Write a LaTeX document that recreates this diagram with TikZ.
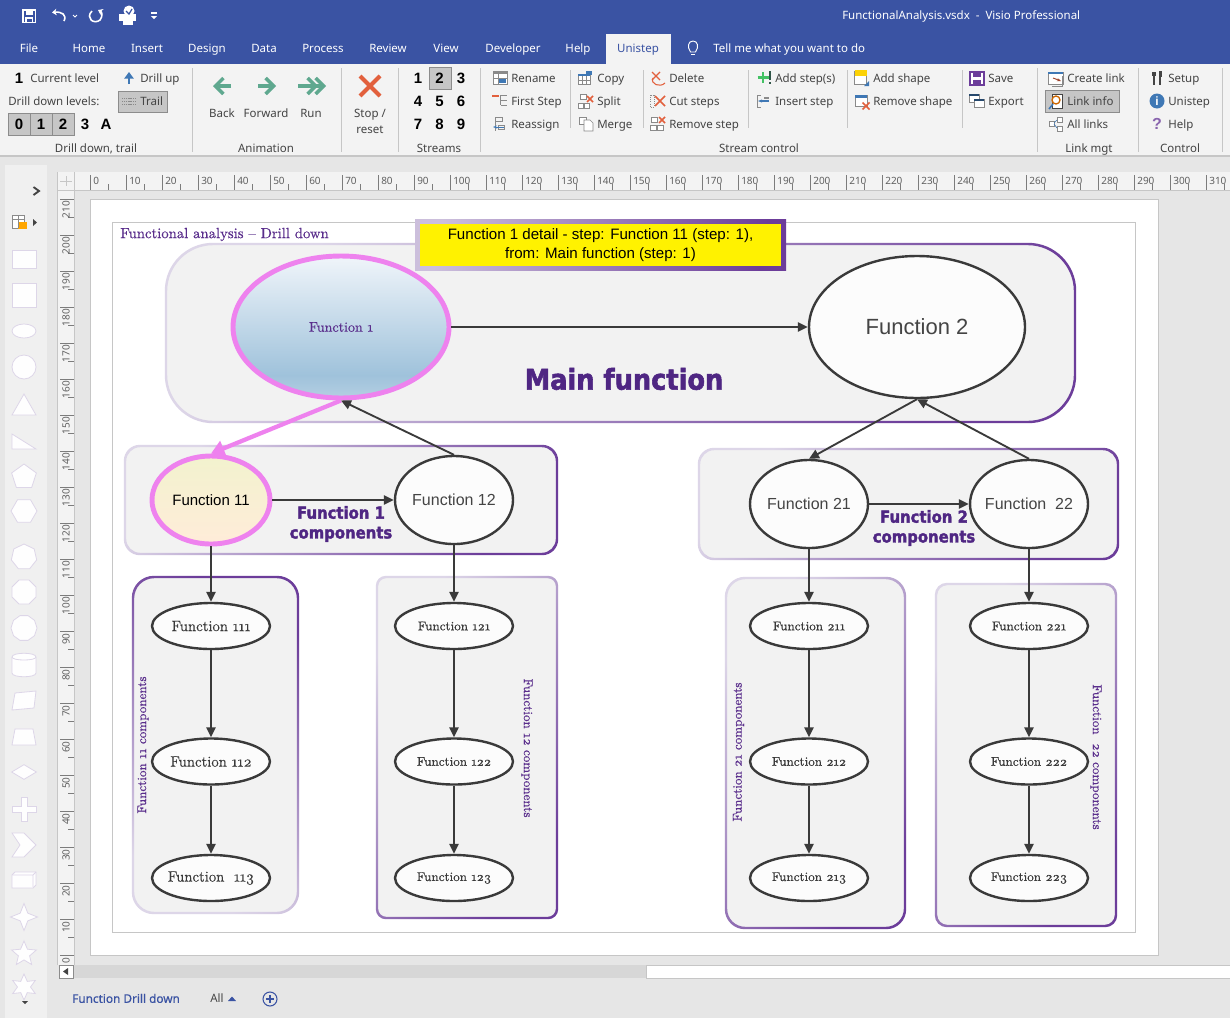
\documentclass[tikz,border=0pt]{standalone}
\usepackage{fontspec}
\usetikzlibrary{arrows.meta,shapes.geometric}
\setmainfont{Latin Modern Roman}[Numbers=OldStyle,FakeBold=0.35]
\newfontfamily\uifont{Noto Sans}
\newfontfamily\uibold{Noto Sans}[FakeBold=0.7]
\newfontfamily\arialfont{Liberation Sans}
\newfontfamily\heavyfont{DejaVu Sans}[FakeBold=2,FakeStretch=0.9]
\definecolor{bluebar}{HTML}{3A53A3}
\definecolor{ribbon}{HTML}{F3F3F3}
\definecolor{wk}{HTML}{E6E6E6}
\definecolor{btn}{HTML}{C6C6C6}
\definecolor{btnb}{HTML}{8C8C8C}
\definecolor{ink}{HTML}{444444}
\definecolor{grpf}{HTML}{F2F2F2}
\definecolor{lav}{HTML}{DDD6E8}
\definecolor{pur}{HTML}{6C3D9A}
\definecolor{headp}{HTML}{4F2683}
\definecolor{titlep}{HTML}{5A2E8C}
\definecolor{pinkn}{HTML}{EE82EE}
\definecolor{stroken}{HTML}{3A3A3A}
\definecolor{teal}{HTML}{5FA88F}
\definecolor{xred}{HTML}{E2603D}
\definecolor{iconb}{HTML}{3F78B5}
\definecolor{icong}{HTML}{8A8A8A}
\definecolor{fonetop}{HTML}{F0F5FA}
\definecolor{fonemid}{HTML}{9FC2DB}
\definecolor{fonelow}{HTML}{B5CFE2}
\pgfdeclareverticalshading{fonegrad}{100bp}{color(0bp)=(fonelow); color(25bp)=(fonelow); color(33bp)=(fonemid); color(75bp)=(fonetop); color(100bp)=(fonetop)}
\newcommand{\pxf}[1]{\fontsize{\dimexpr#1pt*3/4\relax}{\dimexpr#1pt*9/10\relax}\selectfont}
\newcommand{\grp}[7]{%
  \node[fill=grpf,rounded corners=#6*0.75pt,minimum width=(#4-#2)*0.75pt,minimum height=(#5-#3)*0.75pt,inner sep=0pt] (#1) at ({(#2+#4)/2},{(#3+#5)/2}) {};
  \shade[even odd rule,left color=lav,middle color=lav!70!pur,right color=pur,shading angle=#7,rounded corners=#6*0.75pt]
    (#2-1.2,#3-1.2) rectangle (#4+1.2,#5+1.2) [rounded corners=(#6-2)*0.75pt] (#2+1.2,#3+1.2) rectangle (#4-1.2,#5-1.2);}
\newcommand{\redx}[3]{\draw[xred,line width=1.1pt] (#1-#3,#2-#3) -- (#1+#3,#2+#3) (#1-#3,#2+#3) -- (#1+#3,#2-#3);}
\newcommand{\tinybox}[4]{\draw[icong,line width=0.5pt,fill=white] (#1,#2) rectangle (#1+#3,#2+#4);}
\tikzset{
  x=0.75pt,y=-0.75pt,
  ribl/.style={font=\uifont\pxf{11.5},text=ink,inner sep=0pt,anchor=west,text height=9pt,text depth=1.8pt},
  ribc/.style={ribl,anchor=center},
  numb/.style={font=\arialfont\bfseries\pxf{15},text=black,inner sep=0pt,anchor=center},
  tabl/.style={font=\uifont\pxf{11.5},text=white,inner sep=0pt,anchor=center,text height=9pt,text depth=1.8pt},
  btnbox/.style={fill=btn,draw=btnb,line width=0.75pt,inner sep=0pt},
  sepl/.style={draw=btn,line width=0.75pt},
  fbase/.style={ellipse,inner xsep=-8pt,inner ysep=-4pt,draw=stroken,line width=1.8pt,fill=white!99!black},
  bigf/.style={fbase,minimum width=216*0.75pt,minimum height=142*0.75pt},
  midf/.style={fbase,minimum width=118*0.75pt,minimum height=88*0.75pt},
  smf/.style={fbase,minimum width=118*0.75pt,minimum height=46*0.75pt},
  hilit/.style={draw=pinkn,line width=3.7pt},
  arr/.style={draw=stroken,line width=1.4pt,-{Triangle[length=7.5pt,width=7pt]}},
  pinkarr/.style={draw=pinkn,line width=3.2pt,-{Triangle[length=10pt,width=12pt]}},
  comp/.style={font=\heavyfont\bfseries\pxf{16.5},text=headp,inner sep=0pt,align=center},
  rotl/.style={font=\rmfamily\pxf{12.7},text=titlep,inner sep=0pt},
  stenc/.style={fill=white!97!lav,draw=lav,line width=0.6pt,inner sep=0pt},
  rultxt/.style={font=\uifont\pxf{10},text=ink!85!white,inner sep=0pt},
  rultick/.style={draw=ink!70!white,line width=0.4pt},
}
\begin{document}
\begin{tikzpicture}
\useasboundingbox (0,0) rectangle (1230,1018);
% window
\fill[wk] (0,0) rectangle (1230,1018);
\fill[wk!60!white] (5,165) rectangle (47,1018);
\fill[bluebar] (0,0) rectangle (1230,64);
\fill[ribbon] (0,64) rectangle (1230,155);
\draw[btn,line width=1pt] (0,156) -- (1230,156);
\fill[ribbon] (606,34) rectangle (671,64);
% quick access
\draw[white,line width=1.3pt] (23,10) rectangle (35.5,22.5);
\fill[white] (26,10) rectangle (32.5,15);
\draw[white,line width=1pt] (26,22.5) -- (26,18) -- (32.5,18) -- (32.5,22.5);
\draw[white,line width=1.2pt,-{Stealth[length=3.5pt,width=5pt]}] (64,21) .. controls (67,15) and (62,11.5) .. (52,12.5);
\draw[white,line width=0.7pt] (73,15) -- (75,17) -- (77,15);
\draw[white,line width=1.2pt,-{Stealth[length=3.5pt,width=5pt]}] (92,11) .. controls (85,18) and (94,25) .. (100,20) .. controls (103,16) and (102,12) .. (98,10);
\fill[white] (119,14) rectangle (136,21);
\fill[white] (123,21) rectangle (133,25);
\fill[white] (129,11) circle[radius=5.5*0.75pt];
\draw[bluebar,line width=0.9pt] (126,11) -- (129,14) -- (132,9);
\draw[white,line width=0.8pt] (151,13) -- (157,13);
\fill[white] (151,16) -- (157,16) -- (154,19) -- cycle;
\node[tabl,anchor=west] (ttl) at (842,15) {FunctionalAnalysis.vsdx\ \ -\ \ Visio Professional};
\foreach \n/\x/\t in {tb1/29/File,tb2/89/Home,tb3/147/Insert,tb4/207/Design,tb5/264/Data,tb6/323/Process,tb7/388/Review,tb8/446/View,tb9/513/Developer,tb10/578/Help}
  \node[tabl] (\n) at (\x,48) {\t};
\node[tabl,text=bluebar] (tbu) at (638,48) {Unistep};
\draw[white,line width=0.7pt] (690.5,52) .. controls (687,47) and (688,41) .. (693,41) .. controls (698,41) and (699,47) .. (695.5,52) -- cycle;
\draw[white,line width=0.7pt] (691,54.5) -- (695,54.5);
\node[tabl,anchor=west] (tell) at (713,48) {Tell me what you want to do};
% separators
\foreach \x in {192,341,398,480,1037,1138,1222} \draw[sepl] (\x,68) -- (\x,152);
\foreach \x in {570,643,748,847,962} \draw[sepl] (\x,70) -- (\x,128);
% drill down group
\node[numb] (cur) at (19,78) {1};
\node[ribl] (curl) at (30,78) {Current level};
\draw[iconb,line width=1.6pt,-{Triangle[length=5pt,width=7pt]}] (129,84) -- (129,72);
\node[ribl] (dup) at (140,78) {Drill up};
\node[ribl] (ddl) at (8,101) {Drill down levels:};
\node[btnbox,minimum width=49*0.75pt,minimum height=21*0.75pt] (trailb) at (142.5,101.5) {};
\foreach \yy in {98,101,104} \draw[icong,dash pattern=on 0.8pt off 0.6pt,line width=0.5pt] (122,\yy) -- (136,\yy);
\node[ribl] (trail) at (140,101) {Trail};
\foreach \n/\x/\t in {a/19/0,b/41/1,c/63/2}{
  \node[btnbox,minimum width=22*0.75pt,minimum height=22*0.75pt] (lv\n) at (\x,124.5) {};
  \node[numb] (lt\n) at (\x,124) {\t};
}
\node[numb] (lt3) at (85,124) {3};
\node[numb] (lta) at (106,124) {A};
\node[ribc] (g1) at (96,148) {Drill down, trail};
% animation
\draw[teal,line width=2.6pt,-{Straight Barb[length=6pt,width=12pt]}] (231,86) -- (213,86);
\draw[teal,line width=2.6pt,-{Straight Barb[length=6pt,width=12pt]}] (258,86) -- (276,86);
\draw[teal,line width=2.6pt,-{Straight Barb[length=6pt,width=12pt]}] (298,86) -- (318,86);
\draw[teal,line width=2.6pt,{Straight Barb[length=6pt,width=12pt]}-] (326,86) -- (316,86);
\node[ribc] (bk) at (222,113) {Back};
\node[ribc] (fw) at (266,113) {Forward};
\node[ribc] (rn) at (311,113) {Run};
\node[ribc] (g2) at (266,148) {Animation};
\draw[xred,line width=3pt] (360,76) -- (380,96) (360,96) -- (380,76);
\node[ribc] (st1) at (370,113) {Stop /};
\node[ribc] (st2) at (370,129) {reset};
% streams
\node[btnbox,minimum width=22*0.75pt,minimum height=22*0.75pt] (sb) at (440,78) {};
\foreach \n/\x/\y in {1/418/78,2/439.5/78,3/461/78,4/418/101,5/439.5/101,6/461/101,7/418/124,8/439.5/124,9/461/124}
  \node[numb] (sn\n) at (\x,\y) {\n};
\node[ribc] (g3) at (439,148) {Streams};
% stream control etc.
\node[btnbox,minimum width=74*0.75pt,minimum height=22*0.75pt] (linkb) at (1082,101.5) {};
\foreach \n/\x/\y/\t in {r1/511/78/Rename,r2/511/101/First Step,r3/511/124/Reassign,r4/597/78/Copy,r5/597/101/Split,r6/597/124/Merge,r7/669/78/Delete,r8/669/101/Cut steps,r9/669/124/Remove step,r10/775/78/Add step(s),r11/775/101/Insert step,r12/873/78/Add shape,r13/873/101/Remove shape,r14/988/78/Save,r15/988/101/Export,r16/1067/78/Create link,r17/1067/101/Link info,r18/1067/124/All links,r19/1168/78/Setup,r20/1168/101/Unistep,r21/1168/124/Help}
  \node[ribl] (\n) at (\x,\y) {\t};
\node[ribc] (g4) at (759,148) {Stream control};
\node[ribc] (g5) at (1089,148) {Link mgt};
\node[ribc] (g6) at (1180,148) {Control};
% small icons
\tinybox{493}{71}{14}{13}\fill[icong] (493,71) rectangle (507,74);\draw[icong,line width=0.4pt] (498,74) -- (498,84) (493,78) -- (507,78);\fill[iconb] (499,79) rectangle (506,83);
\fill[xred] (492,95) rectangle (499,97);\draw[icong,line width=0.7pt] (501,95) -- (507,95) (501,100) -- (507,100) (501,105) -- (507,105) (500,95) -- (500,105);
\draw[icong,line width=0.6pt] (495,117) rectangle (502,121) (495,121) -- (495,131) (498,125) rectangle (504,129);\draw[iconb,line width=0.7pt,-{Stealth[length=3pt]}] (504,127) -- (493,127);
\tinybox{578}{74}{12}{10}\fill[iconb] (578,74) rectangle (590,76);\draw[icong,line width=0.4pt] (582,76) -- (582,84) (586,76) -- (586,84) (578,80) -- (590,80);\fill[iconb] (586,71) rectangle (592,75);
\tinybox{580}{94}{6}{5}\tinybox{578}{103}{5}{5}\tinybox{584}{103}{5}{5}\redx{590}{99}{3}
\tinybox{579}{117}{7}{7}\draw[icong,line width=0.5pt,fill=white] (584,120) -- (590,120) -- (593,123) -- (593,131) -- (584,131) -- cycle;
\draw[xred,line width=0.9pt] (652,72) -- (660,80);\draw[xred,line width=0.9pt] (652,80) -- (660,72);\draw[xred,line width=0.8pt] (653,78) .. controls (650,84) and (660,88) .. (665,83);
\draw[icong,line width=0.6pt,densely dotted] (650,95) rectangle (654,107);\redx{660}{101}{5}
\tinybox{651}{117}{6}{5}\tinybox{650}{125}{6}{5}\tinybox{657}{125}{6}{5}\redx{662}{120}{3}
\draw[teal!70!green,line width=2pt] (763,72) -- (763,83) (757.5,77.5) -- (768.5,77.5);\draw[teal!50!black,line width=1.5pt] (770,71) -- (770,80) (770,82) -- (770,84);
\draw[icong,line width=0.7pt] (761,95) -- (757,95) -- (757,107) -- (761,107);\draw[iconb,line width=0.9pt,-{Stealth[length=3pt]}] (769,101) -- (758,101);\draw[icong,line width=0.8pt] (764,98) -- (769,98);
\tinybox{854}{71}{12}{13}\fill[yellow!70!orange] (855,70) rectangle (867,76);\fill[iconb] (869,81) -- (864,86) -- (869,86) -- cycle;
\tinybox{855}{95}{12}{11}\fill[iconb] (855,95) rectangle (867,98);\redx{866}{106}{3.5}
\draw[pur,line width=1.3pt,fill=white] (970,72) rectangle (984,85);\fill[pur] (973,72) rectangle (981,77);\fill[pur] (973,80) rectangle (981,85);
\tinybox{969}{94}{10}{8}\fill[iconb!60!black] (969,94) rectangle (979,96);\tinybox{974}{99}{10}{8}\fill[iconb!60!black] (974,99) rectangle (984,101);
\tinybox{1048}{72}{15}{12}\fill[iconb] (1048,72) rectangle (1063,74);\draw[xred!70!black,line width=0.7pt,-{Stealth[length=3pt]}] (1053,78) -- (1061,81);\draw[icong,line width=0.6pt] (1062,76) -- (1062,86) -- (1052,86);
\draw[ink,line width=0.6pt,fill=white] (1052,94) rectangle (1062,108);\draw[orange!80!black,line width=1pt] (1056,100) circle[radius=3pt];\draw[iconb,line width=1.2pt] (1053,104) -- (1049,109);
\tinybox{1049}{121}{5}{5}\tinybox{1057}{117}{5}{5}\tinybox{1057}{126}{5}{5}\draw[iconb,line width=0.5pt] (1054,123) -- (1057,120) (1054,124) -- (1057,128);
\draw[ink,line width=1.8pt] (1154,72) -- (1154,85);\draw[ink,line width=1.8pt] (1160,72) -- (1160,85);\fill[ink] (1152,72) rectangle (1156,76);\fill[ink] (1158.5,71) rectangle (1161.5,77);
\node[circle,fill=iconb,minimum size=15*0.75pt,inner sep=0pt,font=\arialfont\bfseries\pxf{12},text=white] (infoi) at (1157,101) {i};
\node[inner sep=0pt,font=\arialfont\bfseries\pxf{16},text=pur!80!white] (helpi) at (1157,124) {?};
% rulers
\fill[ribbon] (57,172) rectangle (1230,190);
\fill[ribbon] (57,190) rectangle (74,965);
\draw[btn,line width=0.6pt] (57,190) -- (1230,190) (74,172) -- (74,965) (57,172) -- (57,965);
\draw[btn,line width=0.5pt] (66,176) -- (66,186) (60,181) -- (72,181);
\foreach \i [evaluate=\i as \v using int(\i*10),evaluate=\i as \xx using 90+36*\i] in {0,...,31}{
  \draw[rultick] (\xx,175) -- (\xx,190) (\xx+18,184) -- (\xx+18,190);
  \node[rultxt,anchor=west] (rt\i) at (\xx+3,181) {\v};
}
\foreach \i [evaluate=\i as \v using int(\i*10),evaluate=\i as \yy using 955-36*\i] in {0,...,21}{
  \draw[rultick] (60,\yy) -- (74,\yy);
  \ifnum\i>0 \draw[rultick] (68,\yy+18) -- (74,\yy+18);\fi
  \node[rultxt,anchor=east,rotate=90] (rv\i) at (66,\yy+2) {\v};
}
% scrollbar
\fill[btn!70!white] (74,965) rectangle (646,978);
\draw[btn,fill=white,line width=0.5pt] (646,965) rectangle (1230,978);
\draw[btnb,fill=white,line width=0.5pt] (59,965) rectangle (73,978);
\fill[ink] (68,968) -- (68,975) -- (63,971.5) -- cycle;
% stencil
\draw[ink,line width=1.4pt] (33.5,187) -- (39,191) -- (33.5,195);
\tinybox{12}{215}{12}{13}\fill[orange!70!yellow] (18,222) rectangle (27,229);\draw[icong,line width=0.6pt] (12,219) -- (24,219) (18,215) -- (18,228);
\fill[ink] (33,219) -- (37,222.5) -- (33,226) -- cycle;
\draw[stenc] (12,250) rectangle (36,268);
\draw[stenc] (12,283) rectangle (36,307);
\node[stenc,ellipse,minimum width=24*0.75pt,minimum height=14*0.75pt] (s3) at (24,331) {};
\node[stenc,circle,minimum size=24*0.75pt] (s4) at (24,367) {};
\draw[stenc] (12,415) -- (24,394) -- (36,415) -- cycle;
\draw[stenc] (12,434) -- (36,449) -- (12,449) -- cycle;
\node[stenc,regular polygon,regular polygon sides=5,minimum size=26*0.75pt] (s7) at (24,477) {};
\node[stenc,regular polygon,regular polygon sides=6,minimum size=26*0.75pt] (s8) at (24,511) {};
\node[stenc,regular polygon,regular polygon sides=7,minimum size=26*0.75pt] (s9) at (24,557) {};
\node[stenc,regular polygon,regular polygon sides=8,minimum size=26*0.75pt] (s10) at (24,592) {};
\node[stenc,regular polygon,regular polygon sides=10,minimum size=26*0.75pt] (s11) at (24,628) {};
\draw[stenc] (12,657) .. controls (12,652) and (36,652) .. (36,657) -- (36,673) .. controls (36,678) and (12,678) .. (12,673) -- cycle;
\draw[stenc] (12,657) .. controls (12,661) and (36,661) .. (36,657);
\draw[stenc] (12,710) -- (15,693) -- (36,691) -- (34,708) -- cycle;
\draw[stenc] (12,745) -- (15,729) -- (33,729) -- (36,745) -- cycle;
\node[stenc,diamond,minimum width=25*0.75pt,minimum height=15*0.75pt] (s15) at (24,772) {};
\draw[stenc] (21,797) -- (27,797) -- (27,806) -- (36,806) -- (36,812) -- (27,812) -- (27,821) -- (21,821) -- (21,812) -- (12,812) -- (12,806) -- (21,806) -- cycle;
\draw[stenc] (12,833) -- (24,833) -- (36,845) -- (24,857) -- (12,857) -- (20,845) -- cycle;
\draw[stenc] (12,875) -- (15,872) -- (36,872) -- (36,885) -- (33,888) -- (12,888) -- cycle;
\draw[stenc] (12,875) -- (33,875) -- (33,888) (33,875) -- (36,872);
\node[stenc,star,star points=4,star point ratio=2.5,minimum size=27*0.75pt] (s19) at (24,917) {};
\node[stenc,star,star points=5,star point ratio=2.2,minimum size=26*0.75pt] (s20) at (24,954) {};
\node[stenc,star,star points=6,star point ratio=2.0,minimum size=26*0.75pt] (s21) at (24,987) {};
\fill[ink] (22,1001) -- (28,1001) -- (25,1004) -- cycle;
% tabs
\node[inner sep=0pt,anchor=west,font=\uibold\pxf{11.8},text=bluebar,text height=9pt,text depth=1.8pt] (fdd) at (72,998) {Function Drill down};
\node[ribl] (all) at (210,998) {All};
\fill[bluebar] (228,1001) -- (236,1001) -- (232,996.5) -- cycle;
\node[circle,draw=bluebar,line width=0.8pt,minimum size=14*0.75pt,inner sep=0pt] (addp) at (270,999) {};
\draw[bluebar,line width=1pt] (266,999) -- (274,999) (270,995) -- (270,1003);
% page
\draw[btn,fill=white,line width=0.6pt] (90,199) rectangle (1158,955);
\draw[btn,line width=0.8pt] (112.5,222.5) rectangle (1135.5,932.5);
\node[inner sep=0pt,anchor=west,font=\rmfamily\pxf{14.7},text=titlep] (ttlp) at (120,234.5) {Functional analysis -- Drill down};
% groups
\grp{gmain}{166}{244}{1075}{422}{48}{50}
\grp{g11c}{125}{446}{557}{554}{16}{50}
\grp{g21c}{699}{449}{1118}{559}{16}{50}
\grp{g111}{133}{577}{298}{913}{22}{150}
\grp{g121}{377}{577}{557}{918}{10}{50}
\grp{g211}{726}{578}{905}{928}{20}{50}
\grp{g221}{936}{584}{1116}{926}{12}{50}
% function nodes
\node[bigf,hilit,shading=fonegrad] (f1) at (341,327) {};
\node[font=\rmfamily\pxf{14},text=titlep,inner sep=0pt] (f1t) at (341,327) {Function 1};
\node[bigf,font=\arialfont\pxf{22},text=ink] (f2) at (917,327) {Function 2};
\node[midf,hilit,top color=yellow!15!white!95!black,bottom color=orange!15!white,font=\arialfont\pxf{15},text=black] (f11) at (211,500) {Function 11};
\node[midf,font=\arialfont\pxf{16},text=ink] (f12) at (454,500) {Function 12};
\node[midf,font=\arialfont\pxf{16},text=ink] (f21) at (809,504) {Function 21};
\node[midf,font=\arialfont\pxf{16},text=ink] (f22) at (1029,504) {Function\ \ 22};
\foreach \n/\x/\y/\t in {f111/211/626/Function 111,f112/211/761.5/Function 112,f113/211/878/Function\ \ 113}
  \node[smf,font=\rmfamily\pxf{15},text=stroken] (\n) at (\x,\y) {\t};
\foreach \n/\x/\y/\t in {f121/454/626/Function 121,f122/454/761.5/Function 122,f123/454/878/Function 123,f211/809/626/Function 211,f212/809/761.5/Function 212,f213/809/878/Function 213,f221/1029/626/Function 221,f222/1029/761.5/Function 222,f223/1029/878/Function 223}
  \node[smf,font=\rmfamily\pxf{12.7},text=stroken] (\n) at (\x,\y) {\t};
% connectors
\draw[arr] (f1) -- (f2);
\draw[arr] (f11) -- (f12);
\draw[arr] (f21) -- (f22);
\draw[pinkarr] (f1.south) -- (f11.north);
\draw[arr] (f12.north) -- (f1.south);
\draw[arr] (f2.south) -- (f21.north);
\draw[arr] (f22.north) -- (f2.south);
\foreach \a/\b in {f11/f111,f111/f112,f112/f113,f12/f121,f121/f122,f122/f123,f21/f211,f211/f212,f212/f213,f22/f221,f221/f222,f222/f223}
  \draw[arr] (\a) -- (\b);
% callout
\node[left color=lav!85!pur,middle color=lav!70!pur,right color=pur,shading angle=80,minimum width=371*0.75pt,minimum height=51*0.75pt,inner sep=0pt] (callb) at (600.5,244.5) {};
\node[fill=yellow,minimum width=361*0.75pt,minimum height=42*0.75pt,inner sep=0pt,align=center,font=\arialfont\pxf{15.1},text=black] (call) at (600.5,245) {Function 1 detail - step: Function 11 (step: 1),\\[1pt]from: Main function (step: 1)};
% labels
\node[font=\heavyfont\bfseries\pxf{28.5},text=headp,inner sep=0pt] (mainl) at (624,379) {Main function};
\node[comp] (c1) at (341,524) {Function 1\\[0pt]components};
\node[comp] (c2) at (924,528) {Function 2\\[0pt]components};
\node[rotl,rotate=90] (r11) at (143,745) {Function 11 components};
\node[rotl,rotate=-90] (r12) at (527,748) {Function 12 components};
\node[rotl,rotate=90] (r21) at (738.5,752) {Function 21 components};
\node[rotl,rotate=-90] (r22) at (1096,757) {Function\ \ 22 components};
\end{tikzpicture}
\end{document}
